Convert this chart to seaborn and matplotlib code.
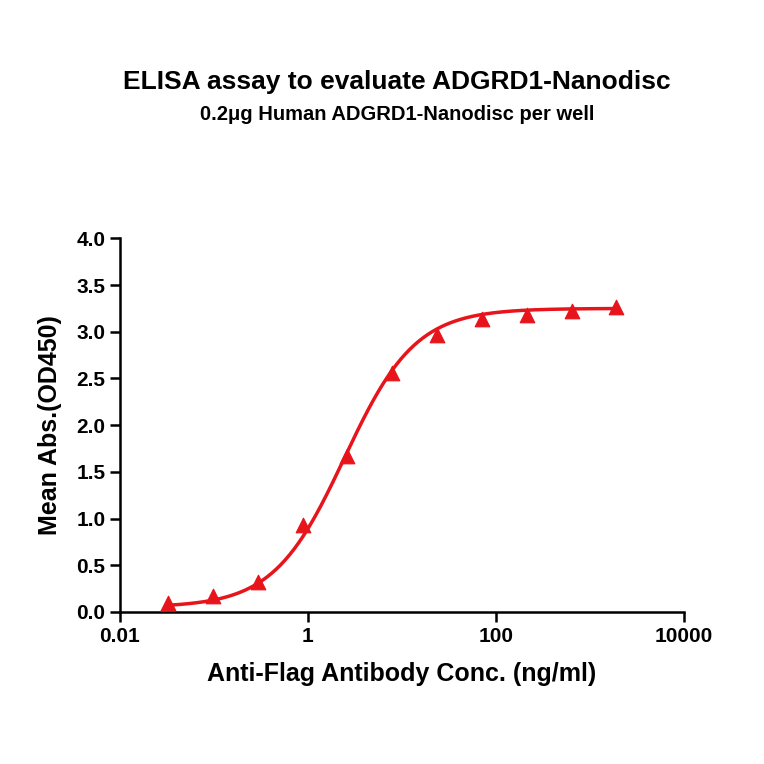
import numpy as np
import matplotlib
matplotlib.use("Agg")
import matplotlib.pyplot as plt
import seaborn as sns
import pandas as pd

conc = [0.0325, 0.0975, 0.2925, 0.878, 2.63, 7.90, 23.7, 71.1, 213.2, 639.6, 1919]
od = [0.10, 0.17, 0.32, 0.93, 1.67, 2.56, 2.97, 3.14, 3.18, 3.22, 3.26]
# fitted 4PL parameters (bottom, top, EC50, hill)
fit_params = [0.05, 3.25, 2.45, 1.15]

sns.set_theme(style="ticks")
plt.rcParams['font.family'] = ['Liberation Sans', 'DejaVu Sans']
plt.rcParams['font.weight'] = 'bold'
plt.rcParams['text.color'] = 'black'
plt.rcParams['axes.labelcolor'] = 'black'

fig = plt.figure(figsize=(7.64, 7.64), dpi=100)
ax = fig.add_axes([0.157, 0.199, 0.738, 0.489])

b, t, ec, h = fit_params
xs = np.logspace(np.log10(conc[0]), np.log10(conc[-1]), 300)
ys = b + (t - b) / (1 + (ec / xs) ** h)
ax.plot(xs, ys, color='#e8141b', lw=2.5)
df = pd.DataFrame({'conc': conc, 'od': od})
sns.scatterplot(data=df, x='conc', y='od', marker='^', s=110, color='#e8141b',
                edgecolor='#e8141b', ax=ax, zorder=3)

ax.set_xscale('log')
ax.set_xlim(0.01, 10000)
ax.set_ylim(0, 4)
ax.set_xticks([0.01, 1, 100, 10000])
ax.set_xticklabels(['0.01', '1', '100', '10000'])
ax.xaxis.set_minor_locator(matplotlib.ticker.NullLocator())
ax.set_yticks(np.arange(0, 4.01, 0.5))
ax.set_yticklabels([f'{v:.1f}' for v in np.arange(0, 4.01, 0.5)])
for s in ['top', 'right']:
    ax.spines[s].set_visible(False)
for s in ['left', 'bottom']:
    ax.spines[s].set_linewidth(1.8)
    ax.spines[s].set_color('black')
ax.tick_params(width=1.8, length=7, labelsize=15, colors='black')
for lab in ax.get_xticklabels() + ax.get_yticklabels():
    lab.set_fontweight('bold')
ax.set_xlabel('Anti-Flag Antibody Conc. (ng/ml)', fontsize=18, fontweight='bold', labelpad=12)
ax.set_ylabel('Mean Abs.(OD450)', fontsize=18, fontweight='bold', labelpad=10)

fig.text(0.52, 0.883, 'ELISA assay to evaluate ADGRD1-Nanodisc', ha='center', fontsize=19, fontweight='bold')
fig.text(0.52, 0.843, '0.2μg Human ADGRD1-Nanodisc per well', ha='center', fontsize=14.5, fontweight='bold')

fig.savefig('out.png', dpi=100)
